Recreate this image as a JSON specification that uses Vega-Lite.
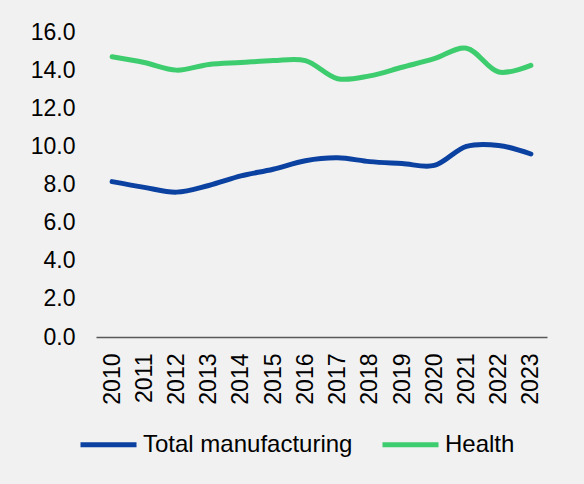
{
  "$schema": "https://vega.github.io/schema/vega-lite/v6.json",
  "autosize": {"type": "none"},
  "padding": {"left": 96, "top": 32, "right": 37, "bottom": 147},
  "width": 451,
  "height": 305,
  "background": "#f1f1f1",
  "config": {
    "view": {"stroke": null},
    "font": "Liberation Sans",
    "axis": {"labelFont": "Liberation Sans", "labelFontSize": 23, "labelColor": "#000000", "grid": false, "ticks": false, "title": null},
    "legend": {"labelFont": "Liberation Sans", "labelFontSize": 24, "labelColor": "#000000"}
  },
  "data": {
    "values": [
      {"year": "2010", "series": "Total manufacturing", "value": 8.15},
      {"year": "2011", "series": "Total manufacturing", "value": 7.85},
      {"year": "2012", "series": "Total manufacturing", "value": 7.6},
      {"year": "2013", "series": "Total manufacturing", "value": 7.95},
      {"year": "2014", "series": "Total manufacturing", "value": 8.45},
      {"year": "2015", "series": "Total manufacturing", "value": 8.8},
      {"year": "2016", "series": "Total manufacturing", "value": 9.25},
      {"year": "2017", "series": "Total manufacturing", "value": 9.4},
      {"year": "2018", "series": "Total manufacturing", "value": 9.2},
      {"year": "2019", "series": "Total manufacturing", "value": 9.1},
      {"year": "2020", "series": "Total manufacturing", "value": 9.0},
      {"year": "2021", "series": "Total manufacturing", "value": 10.0},
      {"year": "2022", "series": "Total manufacturing", "value": 10.05},
      {"year": "2023", "series": "Total manufacturing", "value": 9.6},
      {"year": "2010", "series": "Health", "value": 14.7},
      {"year": "2011", "series": "Health", "value": 14.4},
      {"year": "2012", "series": "Health", "value": 14.0},
      {"year": "2013", "series": "Health", "value": 14.3},
      {"year": "2014", "series": "Health", "value": 14.4},
      {"year": "2015", "series": "Health", "value": 14.5},
      {"year": "2016", "series": "Health", "value": 14.5},
      {"year": "2017", "series": "Health", "value": 13.55},
      {"year": "2018", "series": "Health", "value": 13.7},
      {"year": "2019", "series": "Health", "value": 14.15},
      {"year": "2020", "series": "Health", "value": 14.6},
      {"year": "2021", "series": "Health", "value": 15.15},
      {"year": "2022", "series": "Health", "value": 13.9},
      {"year": "2023", "series": "Health", "value": 14.25}
    ]
  },
  "mark": {"type": "line", "interpolate": "catmull-rom", "strokeWidth": 5, "strokeCap": "round"},
  "encoding": {
    "x": {
      "field": "year", "type": "ordinal",
      "scale": {"type": "point", "padding": 0.5},
      "axis": {"labelAngle": -90, "labelPadding": 16, "domainColor": "#595959", "domainWidth": 1.3, "labelBaseline": "middle", "labelAlign": "right"}
    },
    "y": {
      "field": "value", "type": "quantitative",
      "scale": {"domain": [0, 16], "nice": false},
      "axis": {"values": [0, 2, 4, 6, 8, 10, 12, 14, 16], "format": ".1f", "domain": false, "labelPadding": 21}
    },
    "color": {
      "field": "series", "type": "nominal",
      "scale": {"domain": ["Total manufacturing", "Health"], "range": ["#0B41A0", "#3DCC6E"]},
      "legend": {
        "title": null, "orient": "none", "direction": "horizontal",
        "legendX": -18, "legendY": 382,
        "symbolType": "stroke", "symbolSize": 3136, "symbolStrokeWidth": 5,
        "labelOffset": 4, "columnPadding": 19, "labelLimit": 400
      }
    }
  }
}
